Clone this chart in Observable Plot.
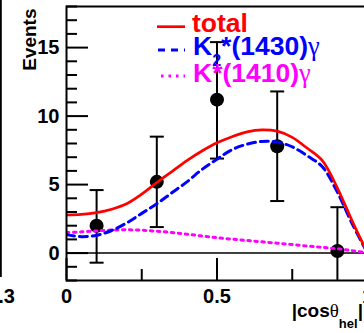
<!DOCTYPE html>
<html><head><meta charset="utf-8">
<script src="https://cdn.jsdelivr.net/npm/d3@7"></script>
<script src="https://cdn.jsdelivr.net/npm/@observablehq/plot@0.6"></script>
<style>
html,body{margin:0;padding:0;background:#fff;overflow:hidden}
#wrap{position:relative;width:364px;height:333px;overflow:hidden}
#ov{position:absolute;left:0;top:0;pointer-events:none}
</style></head><body>
<div id="wrap"></div>
<script>
// data points with asymmetric errors
const pointX = [0.1, 0.3, 0.5, 0.7, 0.9];
const pointY = [2.0, 5.2, 11.2, 7.8, 0.15];
const errLow = [2.7, 3.3, 4.3, 4.0, 3.2];
const errHigh = [2.6, 3.3, 4.2, 4.0, 3.2];

// fitted curves
const curveX = [0, 0.05, 0.1, 0.15, 0.2, 0.25, 0.3, 0.35, 0.4, 0.45, 0.5, 0.55, 0.6, 0.65, 0.7, 0.75, 0.8, 0.85, 0.9, 0.95, 1.0];
const totalY = [2.78, 2.82, 2.95, 3.2, 3.6, 4.3, 5.15, 5.95, 6.75, 7.45, 8.05, 8.5, 8.85, 9.0, 8.9, 8.45, 7.65, 6.75, 4.75, 2.3, 0.0];
const k2Y    = [1.35, 1.2, 1.3, 1.65, 2.2, 2.9, 3.6, 4.4, 5.2, 6.1, 6.85, 7.55, 7.95, 8.15, 8.1, 7.75, 7.1, 6.3, 4.45, 2.1, 0.0];
const k1410Y = [1.5, 1.55, 1.62, 1.68, 1.7, 1.67, 1.6, 1.5, 1.38, 1.25, 1.12, 1.02, 0.92, 0.82, 0.72, 0.62, 0.52, 0.42, 0.32, 0.18, 0.02];

// ticks
const xMajor = [0, 0.5, 1];
const xMinor = [0.25, 0.75];
const yMajor = [0, 5, 10, 15];
const yMinor = [-2, -1, 1, 2, 3, 4, 6, 7, 8, 9, 11, 12, 13, 14, 16, 17, 18];

const points = pointX.map((x, i) => ({x, y: pointY[i], lo: pointY[i] - errLow[i], hi: pointY[i] + errHigh[i]}));
const curves = curveX.map((x, i) => ({x, total: totalY[i], k2: k2Y[i], k1410: k1410Y[i]}));

const capSymbol = {
  draw(context, size) {
    const r = Math.sqrt(size / Math.PI);
    context.moveTo(-r, 0);
    context.lineTo(r, 0);
  }
};

const chart = Plot.plot({
  width: 364,
  height: 333,
  marginLeft: 66,
  marginRight: -3,
  marginTop: 6,
  marginBottom: 53,
  style: {fontFamily: "'Liberation Sans', Arial, sans-serif", fontWeight: "bold", background: "white", overflow: "hidden"},
  x: {domain: [0, 1], label: null},
  y: {domain: [-2, 18], label: null},
  marks: [
    Plot.ruleY([0], {stroke: "black", strokeWidth: 1.5}),
    Plot.ruleX(points, {x: "x", y1: "lo", y2: "hi", stroke: "black", strokeWidth: 2, clip: true}),
    Plot.dot(points, {x: "x", y: "hi", symbol: capSymbol, r: 7, stroke: "black", fill: "none", strokeWidth: 2, clip: true}),
    Plot.dot(points, {x: "x", y: "lo", symbol: capSymbol, r: 7, stroke: "black", fill: "none", strokeWidth: 2, clip: true}),
    Plot.dot(points, {x: "x", y: "y", r: 7, fill: "black", stroke: "none"}),
    Plot.line(curves, {x: "x", y: "k1410", stroke: "#ff00ff", strokeWidth: 3, strokeDasharray: "2.5,4.5", curve: "catmull-rom", clip: true}),
    Plot.line(curves, {x: "x", y: "k2", stroke: "#0000ff", strokeWidth: 3, strokeDasharray: "8,5", curve: "catmull-rom", clip: true}),
    Plot.line(curves, {x: "x", y: "total", stroke: "#ff0000", strokeWidth: 2.7, curve: "catmull-rom", clip: true}),
    Plot.frame({stroke: "black", strokeWidth: 2}),
    Plot.axisY(yMajor, {tickSize: -22, strokeWidth: 2, tickFormat: () => "", label: null}),
    Plot.axisY(yMinor, {tickSize: -11, strokeWidth: 2, tickFormat: () => "", label: null}),
    Plot.axisY(yMajor, {tickSize: 0, tickPadding: 7, fontSize: 20, tickFormat: d => `${d}`, label: null}),
    Plot.axisX(xMajor, {tickSize: -22, strokeWidth: 2, tickFormat: () => "", label: null}),
    Plot.axisX(xMinor, {tickSize: -11, strokeWidth: 2, tickFormat: () => "", label: null}),
    Plot.axisX(xMajor, {tickSize: 0, tickPadding: 8, fontSize: 20, tickFormat: d => `${d}`, label: null}),
    Plot.text(["Events"], {frameAnchor: "top-left", text: d => d, rotate: -90, textAnchor: "end", dx: -44, dy: 2, fontSize: 19, fontWeight: "bold"})
  ]
});
document.getElementById("wrap").appendChild(chart);

const ns = "http://www.w3.org/2000/svg";
const ov = document.createElementNS(ns, "svg");
ov.setAttribute("id", "ov");
ov.setAttribute("width", 364);
ov.setAttribute("height", 333);
ov.innerHTML = `
  <line x1="0.8" y1="0" x2="0.8" y2="277" stroke="black" stroke-width="2"/>
  <g font-family="'Liberation Sans', Arial, sans-serif" font-weight="bold">
    <text x="15" y="303" text-anchor="end" font-size="20">1.3</text>
    <line x1="157" y1="26.7" x2="185" y2="26.7" stroke="#ff0000" stroke-width="2.7"/>
    <line x1="158" y1="50" x2="185" y2="50" stroke="#0000ff" stroke-width="3" stroke-dasharray="7,6"/>
    <line x1="161" y1="76" x2="185" y2="76" stroke="#ff00ff" stroke-width="3" stroke-dasharray="2.5,5"/>
    <text x="192" y="32" font-size="26.5" fill="#ff0000">total</text>
    <text x="193" y="55" font-size="26.5" fill="#0000ff">K<tspan font-size="16" dy="11">2</tspan><tspan dy="-11">*</tspan>(1430)<tspan font-family="'Liberation Serif', serif" font-weight="normal">γ</tspan></text>
    <text x="193" y="82" font-size="26.5" fill="#ff00ff">K*(1410)<tspan font-family="'Liberation Serif', serif" font-weight="normal">γ</tspan></text>
    <text x="291.7" y="317" font-size="19" fill="black">|cos<tspan font-family="'Liberation Serif', serif" font-weight="normal">θ</tspan><tspan font-size="13" dy="11">hel</tspan><tspan dy="-11">|</tspan></text>
  </g>`;
document.getElementById("wrap").appendChild(ov);
</script>
</body></html>
